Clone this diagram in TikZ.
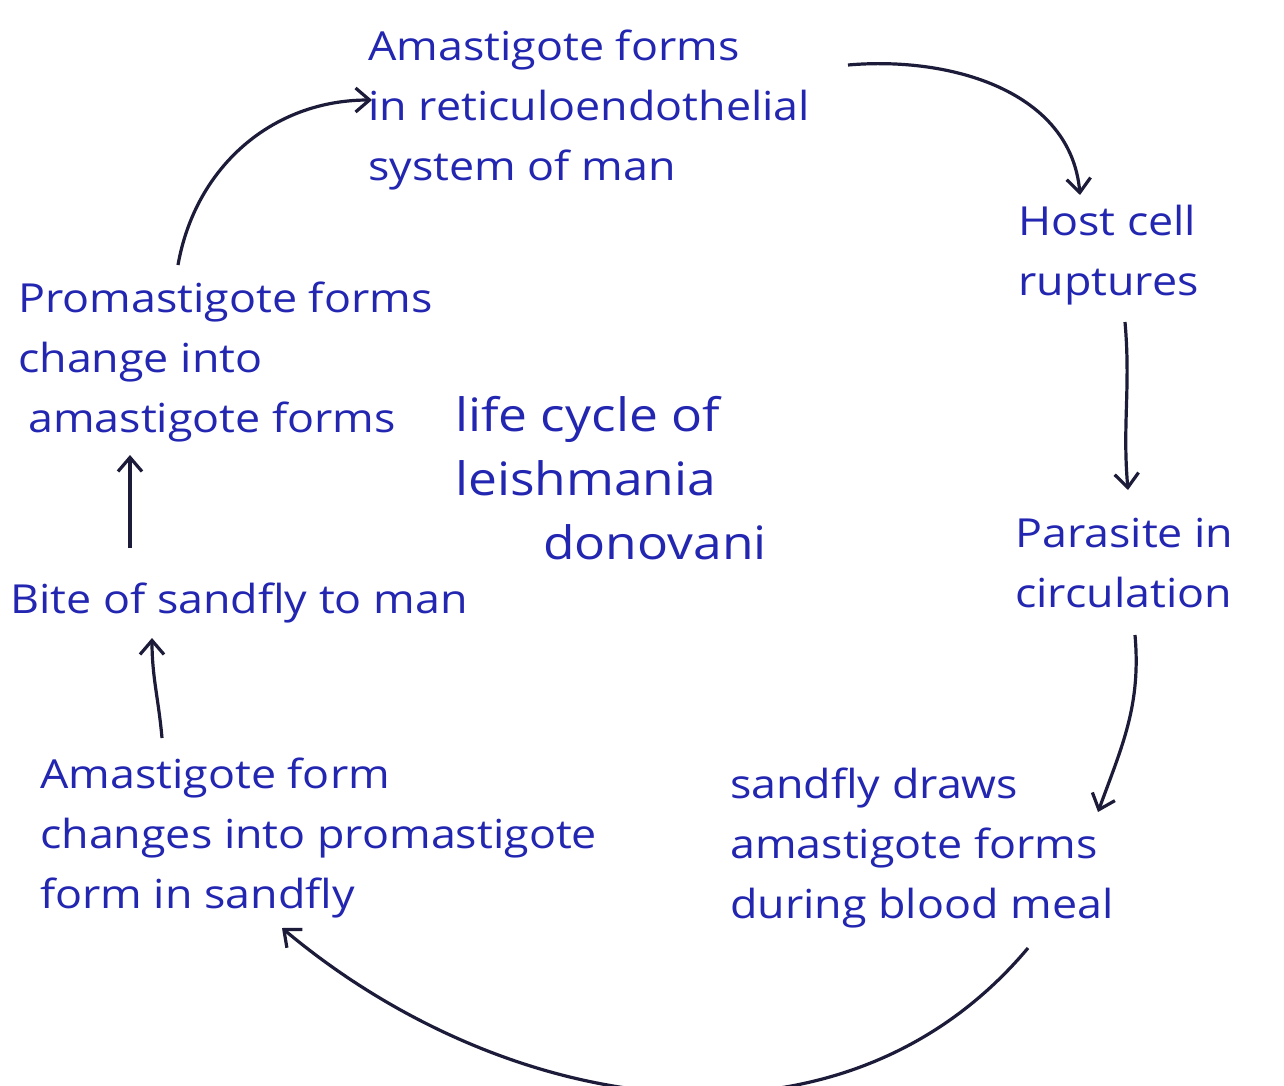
\documentclass[tikz,border=0pt]{standalone}
\usepackage{fontspec}
\setmainfont{Open Sans}[FakeStretch=1.12]
\usetikzlibrary{calc,arrows.meta}
\definecolor{ink}{HTML}{2226B0}
\definecolor{pen}{HTML}{1C1C3A}
\begin{document}
\begin{tikzpicture}[x=1pt,y=-1pt,
  lbl/.style={anchor=north west,inner sep=0pt,align=left,text=ink,
    font=\fontsize{40}{60}\selectfont},
  arr/.style={draw=pen,line width=3.2pt,-{Straight Barb[length=14pt,width=24pt,line width=3.2pt]}}]
\useasboundingbox[fill=white] (0,0) rectangle (1284,1086);
\node[lbl] (top) at (368,30) {Amastigote forms\\ in reticuloendothelial\\ system of man};
\node[lbl] (host) at (1018,205) {Host cell\\ ruptures};
\node[lbl] (para) at (1015,518) {Parasite in\\ circulation};
\node[lbl] (sfd) at (730,768) {sandfly draws\\ amastigote forms\\ during blood meal};
\node[lbl] (amf) at (40,758) {Amastigote form\\ changes into promastigote\\ form in sandfly};
\node[lbl] (bite) at (10,583) {Bite of sandfly to man};
\node[lbl] (promo) at (18,282) {Promastigote forms\\ change into\\ \hspace*{10pt}amastigote forms};
\node[lbl,font=\fontsize{46}{64}\selectfont] (title) at (455,396) {life cycle of\\ leishmania\\ \hspace*{88pt}donovani};
\draw[arr] ($(promo.north west)+(160,-17)$) to[out=80,in=180] ($(top.north west)+(4,70)$);
\draw[arr] ($(top.north west)+(480,35)$) to[out=5,in=95] ($(host.north west)+(62,-10)$);
\draw[arr] ($(host.north west)+(107,117)$) to[out=-85,in=95] ($(para.north west)+(113,-28)$);
\draw[arr] ($(para.north west)+(120,117)$) to[out=-85,in=70] ($(sfd.north west)+(368,44)$);
\draw[arr] ($(sfd.north west)+(298,180)$) to[out=-130,in=-40] ($(amf.north west)+(242,170)$);
\draw[arr] ($(amf.north west)+(122,-20)$) to[out=95,in=-90] ($(bite.north west)+(142,55)$);
\draw[arr] ($(bite.north west)+(120,-35)$) to[out=90,in=-90] ($(promo.north west)+(112,173)$);
\end{tikzpicture}
\end{document}
